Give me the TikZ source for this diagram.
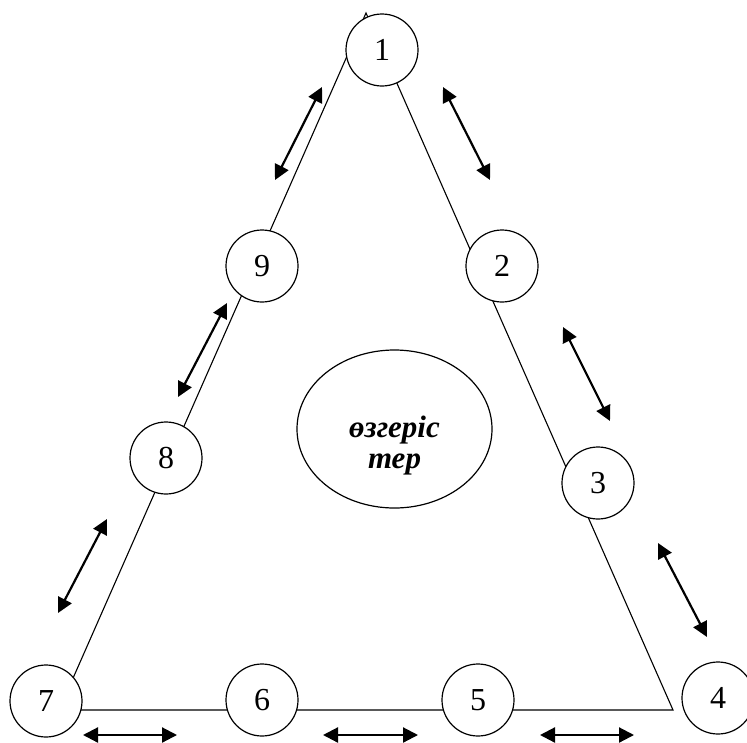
\documentclass[tikz,border=0pt]{standalone}
\usepackage{fontspec}
\setmainfont{Liberation Serif}
\usetikzlibrary{arrows.meta, shapes}
\tikzset{
		stage/.style={draw, circle, fill=white, line width=1.2pt, minimum size=72pt, inner sep=0pt, font=\fontsize{32}{34}\selectfont},
		core/.style={draw, ellipse, line width=1.2pt, minimum width=195pt, minimum height=158pt, inner sep=0pt},
		swap/.style={line width=2.2pt, {Triangle[length=15pt,width=15pt]}-{Triangle[length=15pt,width=15pt]}}
	}

\begin{document}
\begin{tikzpicture}[x=1pt, y=-1pt]
				\useasboundingbox (0,0) rectangle (747,742);

				\coordinate (top)   at (366,13);
				\coordinate (left)  at (59,710);
				\coordinate (right) at (673,710);
				\draw[line width=1.1pt] (top) -- (left) -- (right) -- cycle;

				\node[stage] (n1) at (382,50)  {1};
				\node[stage] (n2) at (502,266) {2};
				\node[stage] (n3) at (598,483) {3};
				\node[stage] (n4) at (718,698) {4};
				\node[stage] (n5) at (478,700) {5};
				\node[stage] (n6) at (262,700) {6};
				\node[stage] (n7) at (46,701)  {7};
				\node[stage] (n8) at (166,458) {8};
				\node[stage] (n9) at (262,266) {9};

				\node[core] (chg) at (394.5,429) {};
				\node[font=\fontsize{31}{31}\selectfont\bfseries\itshape, align=center] (chgtext) at ([yshift=-17pt]chg.center) {өзгеріс\\тер};

				% arrows beside the sides
				\coordinate (a1) at (322,87);  \coordinate (b1) at (275,180);
				\coordinate (a2) at (443,87);  \coordinate (b2) at (490,180);
				\coordinate (a3) at (227,303); \coordinate (b3) at (178,397);
				\coordinate (a4) at (563,327); \coordinate (b4) at (610,421);
				\coordinate (a5) at (107,519); \coordinate (b5) at (58,613);
				\coordinate (a6) at (658,543); \coordinate (b6) at (707,637);
				\coordinate (a7) at (83,735);  \coordinate (b7) at (177,735);
				\coordinate (a8) at (323,735); \coordinate (b8) at (418,735);
				\coordinate (a9) at (540,735); \coordinate (b9) at (634,735);

				\draw[swap] (a1) -- (b1);
				\draw[swap] (a2) -- (b2);
				\draw[swap] (a3) -- (b3);
				\draw[swap] (a4) -- (b4);
				\draw[swap] (a5) -- (b5);
				\draw[swap] (a6) -- (b6);
				\draw[swap] (a7) -- (b7);
				\draw[swap] (a8) -- (b8);
				\draw[swap] (a9) -- (b9);
			\end{tikzpicture}
\end{document}
